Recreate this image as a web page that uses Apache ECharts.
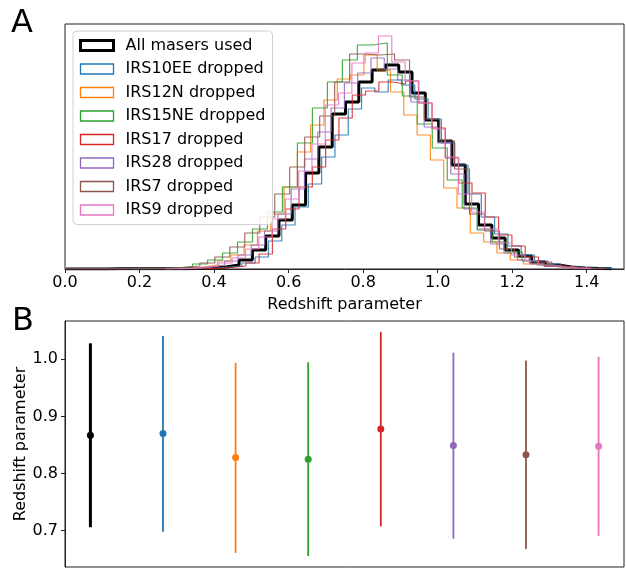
<!DOCTYPE html>
<html><head><meta charset="utf-8">
<script src="https://cdn.jsdelivr.net/npm/echarts@6/dist/echarts.min.js"></script>
<style>html,body{margin:0;padding:0;background:#fff}#c{width:626px;height:569px}</style>
</head><body><div id="c"></div>
<script>
// ---------- data ----------
const seriesNames = ['All masers used','IRS10EE dropped','IRS12N dropped','IRS15NE dropped','IRS17 dropped','IRS28 dropped','IRS7 dropped','IRS9 dropped'];
// histogram bin layout (left edge of first bin, bin width) per series
const binStarts = [0.003, 0.296, 0.2665, 0.1815, 0.3067, 0.0, 0.0, 0.270];
const binWidths = [0.0357, 0.0357, 0.0357, 0.0402, 0.0357, 0.0357, 0.0402, 0.0357];
// histogram counts (arbitrary units) per series
const countsAll = [0,0,0,0.2,0.2,0.2,0.3,0.3,0.3,0.5,1,2,4,9,19,33,49,64,96,122,155,167,187,199,204,197,176,149,128,104,65,44,31,19,13,7,4,2,1,0.5,0.3];
const countsIRS10EE = [0.3,0.5,1,2,3,6,12,28,44,62,85,112,134,160,181,177,189,184,170,150,126,104,75,52,35,23,14,8,5,2.5,1.2,0.5,0.3];
const countsIRS12N = [0.5,1,2,4,8,14,24,38,55,82,117,144,169,190,194,214,199,177,154,134,109,81,61,36,27,16,9,5,3,1.5,0.7,0.3];
const countsIRS15NE = [0.3,0.5,1.2,2.5,5,9,16,27,40,57,82,126,161,187,209,224,226,194,173,145,121,89,61,39,27,17,8,4,2,0.8,0.3];
const countsIRS17 = [0.2,0.4,0.8,1.5,3,6,15,40,60,82,102,129,151,174,178,187,185,188,166,141,111,86,76,52,34,23,12,7,3,1.5,0.6,0.3];
const countsIRS28 = [0.2,0.2,0.2,0.2,0.2,0.2,0.2,0.2,0.5,1,2,4,8,14,24,38,55,80,110,137,161,186,196,211,200,189,167,142,126,95,60,40,25,16,9,5,2.5,1,0.5,0.3];
const countsIRS7 = [0.2,0.2,0.2,0.2,0.3,0.4,0.7,1.5,3,6,12,22,36,52,75,102,132,153,187,215,214,215,209,172,150,128,100,55,38,20,12,6,3,1.5,0.6,0.3];
const countsIRS9 = [0.3,0.7,1.5,3,6,11,20,32,50,70,98,125,164,176,206,216,233,207,188,166,140,112,75,57,40,26,14,8,4,2,1,0.4];
const xTicksA = [0.0,0.2,0.4,0.6,0.8,1.0,1.2,1.4];
// panel B: redshift estimates with ranges
const errCenters = [0.867,0.870,0.828,0.825,0.878,0.849,0.833,0.848];
const errLow = [0.706,0.698,0.661,0.6555,0.7075,0.686,0.668,0.691];
const errHigh = [1.028,1.041,0.994,0.995,1.048,1.0116,0.998,1.0046];
const yTicksB = [0.7,0.8,0.9,1.0];

// ---------- styles ----------
const colors = ['#000000','#1f77b4','#ff7f0e','#2ca02c','#d62728','#9467bd','#8c564b','#e377c2'];
const allCounts = [countsAll,countsIRS10EE,countsIRS12N,countsIRS15NE,countsIRS17,countsIRS28,countsIRS7,countsIRS9];
const FONT = 'DejaVu Sans';
const FS = 16;

function stepPoints(start, width, counts) {
  const pts = [[start, 0]];
  counts.forEach((c, i) => {
    const x0 = start + i * width, x1 = start + (i + 1) * width;
    pts.push([x0, c], [x1, c]);
  });
  pts.push([start + counts.length * width, 0]);
  return pts;
}

const histSeries = seriesNames.map((name, i) => ({
  name, type: 'line', xAxisIndex: 0, yAxisIndex: 0,
  data: stepPoints(binStarts[i], binWidths[i], allCounts[i]),
  symbol: 'none', showSymbol: false, clip: true, animation: false,
  lineStyle: { color: colors[i], width: i === 0 ? 3 : 1.2, opacity: i === 0 ? 1 : 0.85 },
  itemStyle: { color: colors[i] },
  z: i === 0 ? 2 : 3
}));

const errData = errCenters.map((c, i) => [i, errLow[i], errHigh[i]]);
const ptData = errCenters.map((c, i) => [i, c]);

const chart = echarts.init(document.getElementById('c'), null, { renderer: 'canvas' });
chart.setOption({
  animation: false,
  backgroundColor: '#fff',
  textStyle: { fontFamily: FONT },
  graphic: [
    { type: 'text', left: 11, top: 8, style: { text: 'A', fontSize: 32, fontFamily: FONT, fill: '#000' } },
    { type: 'text', left: 12, top: 306, style: { text: 'B', fontSize: 32, fontFamily: FONT, fill: '#000' } }
  ],
  legend: {
    orient: 'vertical', left: 73, top: 31,
    padding: [6, 7, 6, 6],
    itemWidth: 33, itemHeight: 10, itemGap: 6.5,
    backgroundColor: 'rgba(255,255,255,0.85)', borderColor: '#d0d0d0', borderWidth: 1, borderRadius: 4,
    icon: 'rect',
    textStyle: { fontSize: FS, fontFamily: FONT, color: '#000', lineHeight: 17, padding: [0, 0, 0, 7] },
    data: seriesNames.map((n, i) => ({
      name: n, icon: 'rect',
      itemStyle: { color: 'rgba(0,0,0,0)', borderColor: colors[i], borderWidth: i === 0 ? 3 : 1.3 }
    }))
  },
  grid: [
    { left: 65, top: 24, width: 559, height: 245, show: true, borderColor: '#222', borderWidth: 1, backgroundColor: 'transparent' },
    { left: 65, top: 321, width: 559, height: 246, show: true, borderColor: '#222', borderWidth: 1, backgroundColor: 'transparent' }
  ],
  xAxis: [
    {
      gridIndex: 0, type: 'value', min: 0, max: 1.5,
      axisLine: { show: true, onZero: false, lineStyle: { color: '#222', width: 1 } },
      axisTick: { show: true, length: 4, customValues: xTicksA, lineStyle: { color: '#222' } },
      axisLabel: { show: true, customValues: xTicksA, formatter: v => v.toFixed(1), fontSize: FS, color: '#000', margin: 6, fontFamily: FONT },
      splitLine: { show: false },
      name: 'Redshift parameter', nameLocation: 'middle', nameGap: 28, nameMoveOverlap: false,
      nameTextStyle: { fontSize: FS, color: '#000', fontFamily: FONT }
    },
    {
      gridIndex: 1, type: 'value', min: -0.35, max: 7.35,
      axisLine: { show: false, onZero: false }, axisTick: { show: false }, axisLabel: { show: false }, splitLine: { show: false }
    }
  ],
  yAxis: [
    {
      gridIndex: 0, type: 'value', min: 0, max: 245,
      axisLine: { show: false, onZero: false }, axisTick: { show: false }, axisLabel: { show: false }, splitLine: { show: false }
    },
    {
      gridIndex: 1, type: 'value', min: 0.6364, max: 1.0671,
      axisLine: { show: true, onZero: false, lineStyle: { color: '#222', width: 1 } },
      axisTick: { show: true, length: 4, customValues: yTicksB, lineStyle: { color: '#222' } },
      axisLabel: { show: true, customValues: yTicksB, formatter: v => v.toFixed(1), fontSize: FS, color: '#000', margin: 7, fontFamily: FONT },
      splitLine: { show: false },
      name: 'Redshift parameter', nameLocation: 'middle', nameGap: 36, nameRotate: 90, nameMoveOverlap: false,
      nameTextStyle: { fontSize: FS, color: '#000', fontFamily: FONT }
    }
  ],
  series: histSeries.concat([
    {
      type: 'custom', name: 'errbars', xAxisIndex: 1, yAxisIndex: 1,
      data: errData, encode: { x: 0, y: [1, 2] },
      renderItem: (params, api) => {
        const x = api.value(0);
        const p1 = api.coord([x, api.value(1)]);
        const p2 = api.coord([x, api.value(2)]);
        const i = params.dataIndex;
        return { type: 'line', shape: { x1: p1[0], y1: p1[1], x2: p2[0], y2: p2[1] },
          style: { stroke: colors[i], lineWidth: i === 0 ? 3 : 1.8 } };
      },
      z: 5
    },
    {
      type: 'scatter', name: 'points', xAxisIndex: 1, yAxisIndex: 1,
      data: ptData, symbol: 'circle', symbolSize: 7,
      itemStyle: { color: p => colors[p.dataIndex], opacity: 1 },
      z: 6
    }
  ])
});
</script>
</body></html>
